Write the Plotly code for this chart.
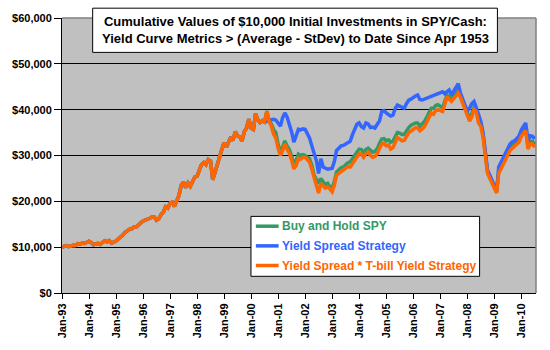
import pandas as pd
import plotly.graph_objects as go

# ---- data (monthly, Jan 1993 - Jul 2010) ----
common_1993_jul2000 = [
    10000, 10100, 10350, 10100, 10350, 10400, 10350, 10750, 10650, 10900, 10800, 10950,
    11300, 11000, 10550, 10700, 10850, 10600, 10950, 11400, 11150, 11400, 10900, 11050,
    11350, 11800, 12150, 12600, 13200, 13600, 13900, 14000, 14400, 14400, 15000, 15300,
    15700, 15900, 16000, 16300, 16600, 16600, 15900, 16200, 17100, 17600, 18800, 18500,
    19600, 19800, 18900, 20000, 21300, 23500, 24200, 23000, 24000, 23300, 24300, 25300,
    25500, 27000, 28000, 28500, 28000, 29100, 28800, 24700, 26200, 27800, 29700, 31300,
    32800, 31800, 33000, 34000, 33300, 35200, 34300, 34000, 33200, 35200, 36000, 37900,
    36000, 35700, 39100, 37800, 37200, 37600, 37300,
]

buy_hold_aug2000_on = [
    39700, 37500, 36900, 35700, 35000,
    32400, 30700, 31800, 33200, 32100, 31300, 29900, 28200, 28900, 30300, 30000, 30200,
    30000, 29700, 29300, 27900, 25700, 24800, 23900, 25000, 24300, 23600, 23900, 23200,
    22900, 24400, 26400, 26900, 27300, 27500, 28000, 28400, 28600, 29400, 30100, 30700,
    31400, 31300, 30400, 31300, 31600, 31000, 30700, 30900, 31500, 32600, 33600, 33700,
    33200, 33400, 32900, 33100, 34100, 35000, 34900, 34600, 34600, 35400, 36100, 36600,
    36900, 37100, 37100, 36400, 36900, 37400, 38300, 39300, 40300, 40300, 40900, 41100,
    40800, 40400, 41700, 43200, 42800, 42500, 43000, 43500, 44300, 43300, 41800, 40400,
    39400, 38200, 39100, 40500, 40000, 37800, 37000, 34600, 30900, 26500, 25400, 24300,
    23400, 22200, 26600, 27700, 28700, 29500, 30600, 31700, 32200, 32700, 33100, 33500,
    34800, 35600, 36000, 32000, 33100, 33100, 32400,
]

yield_spread_aug2000_on = [
    37400, 37600, 37800, 37900, 37700,
    37100, 36400, 38200, 39300, 38400, 37000, 35200, 32900, 34300, 35700, 35600, 35800,
    35700, 34700, 33800, 32100, 30500, 28900, 26100, 29300, 27500, 27300, 27000, 27100,
    27200, 28800, 31100, 31600, 32100, 32200, 32500, 32900, 33100, 34500, 35700, 36800,
    37100, 36300, 36000, 37100, 36900, 36100, 36200, 36000, 36800, 37500, 39600, 39800,
    39300, 39000, 38600, 38800, 40200, 41000, 40800, 40400, 40300, 41300, 42100, 42300,
    42700, 43000, 43200, 42200, 42100, 42300, 42500, 42700, 42900, 43100, 43300, 43400,
    43600, 43900, 43500, 44000, 44300, 43200, 44000, 44600, 45700, 43600, 42000, 41000,
    39700, 40300, 41300, 41800, 40500, 38900, 37500, 35000, 31100, 26800, 25700, 24600,
    23600, 22200, 27500, 28500, 29300, 30200, 31400, 32500, 33000, 33200, 33700, 34300,
    35600, 36400, 37100, 33200, 34300, 34200, 33600,
]

spread_tbill_aug2000_on = [
    39700, 37500, 36400, 34600, 33800,
    31500, 30000, 31000, 32500, 31400, 30500, 29000, 27100, 27800, 29400, 29200, 29600,
    29600, 29000, 28600, 27000, 25000, 23500, 21800, 23900, 23400, 22900, 23200, 22500,
    22100, 23600, 25700, 26100, 26500, 26800, 27200, 27600, 27500, 28300, 29000, 29600,
    30400, 30300, 29600, 30400, 30700, 30000, 29600, 29800, 30400, 31500, 32500, 32700,
    32100, 32300, 31400, 31700, 32900, 33900, 33600, 33200, 33300, 34300, 35000, 35300,
    35700, 36100, 36000, 35400, 35800, 36300, 37200, 38200, 39300, 39000, 39800, 40000,
    39800, 39600, 41000, 42800, 42300, 41800, 42400, 42900, 43600, 42700, 41200, 39800,
    38800, 37500, 38400, 40000, 39500, 37100, 36400, 34000, 30400, 26100, 25000, 23900,
    23000, 21800, 26100, 27200, 28200, 29000, 30000, 31100, 31600, 32100, 32500, 32900,
    34200, 35000, 35400, 31400, 32500, 32500, 31800,
]

series_names = ["Buy and Hold SPY", "Yield Spread Strategy", "Yield Spread * T-bill Yield Strategy"]
series_colors = ["#339966", "#3366FF", "#FF6600"]
title_lines = ["Cumulative Values of $10,000 Initial Investments in SPY/Cash:",
               "Yield Curve Metrics > (Average - StDev) to Date Since Apr 1953"]

dates = pd.date_range("1993-01-01", periods=len(common_1993_jul2000) + len(buy_hold_aug2000_on), freq="MS")
buy_hold = common_1993_jul2000 + buy_hold_aug2000_on
yield_spread = common_1993_jul2000 + yield_spread_aug2000_on
spread_tbill = common_1993_jul2000 + spread_tbill_aug2000_on

font_family = "Liberation Sans, Arial, sans-serif"

fig = go.Figure()
for name, vals, col in zip(series_names, [buy_hold, yield_spread, spread_tbill], series_colors):
    fig.add_trace(go.Scatter(
        x=dates, y=vals, mode="lines", name=name,
        line=dict(color=col, width=3.5), showlegend=False,
    ))

# manual legend box (paper coordinates)
leg_x0, leg_x1, leg_y0, leg_y1 = 0.3987, 0.881, 0.0607, 0.2786
leg_rows = [0.2429, 0.1714, 0.1000]
shapes = [
    dict(type="rect", xref="paper", yref="paper", x0=leg_x0, x1=leg_x1, y0=leg_y0, y1=leg_y1,
         fillcolor="white", line=dict(color="black", width=1), layer="above"),
    # title box
    dict(type="rect", xref="paper", yref="paper", x0=0.0647, x1=0.9186, y0=0.875, y1=1.0357,
         fillcolor="white", line=dict(color="black", width=1), layer="above"),
    # plot area border (top/right)
    dict(type="line", xref="paper", yref="paper", x0=0, x1=1, y0=1, y1=1,
         line=dict(color="#808080", width=1.5), layer="below"),
    dict(type="line", xref="paper", yref="paper", x0=1, x1=1, y0=0, y1=1,
         line=dict(color="#808080", width=1.5), layer="above"),
]
annotations = []
for name, col, yy in zip(series_names, series_colors, leg_rows):
    shapes.append(dict(type="line", xref="paper", yref="paper", x0=0.409, x1=0.457, y0=yy, y1=yy,
                       line=dict(color=col, width=3.5), layer="above"))
    annotations.append(dict(text=name, xref="paper", yref="paper", x=0.459, y=yy,
                            xanchor="left", yanchor="middle", showarrow=False,
                            font=dict(family=font_family, size=12, color=col, weight="bold")))

annotations.append(dict(
    text="<br>".join(title_lines),
    xref="paper", yref="paper", x=0.4916, y=0.955, xanchor="center", yanchor="middle",
    showarrow=False, align="center",
    font=dict(family=font_family, size=13, color="black", weight="bold"),
))

fig.update_layout(
    width=550, height=350,
    margin=dict(l=57, r=14, t=15, b=55),
    paper_bgcolor="white",
    plot_bgcolor="#C0C0C0",
    font=dict(family=font_family, size=11, color="black"),
    showlegend=False,
    xaxis=dict(
        type="date",
        range=["1993-01-01", "2010-07-18"],
        dtick="M12", tick0="1993-01-01",
        tickformat="%b-%y", tickangle=-90,
        showgrid=False,
        showline=True, linecolor="black", linewidth=1,
        ticks="outside", ticklen=5, tickcolor="black",
        tickfont=dict(family=font_family, size=11, weight="bold"),
    ),
    yaxis=dict(
        range=[0, 60000], dtick=10000,
        tickprefix="$", tickformat=",",
        showgrid=True, gridcolor="black", gridwidth=1,
        zeroline=False,
        showline=True, linecolor="black", linewidth=1,
        ticks="outside", ticklen=7, tickcolor="black",
        tickfont=dict(family=font_family, size=11, weight="bold"),
    ),
    shapes=shapes,
    annotations=annotations,
)

fig.write_html("out.html")
